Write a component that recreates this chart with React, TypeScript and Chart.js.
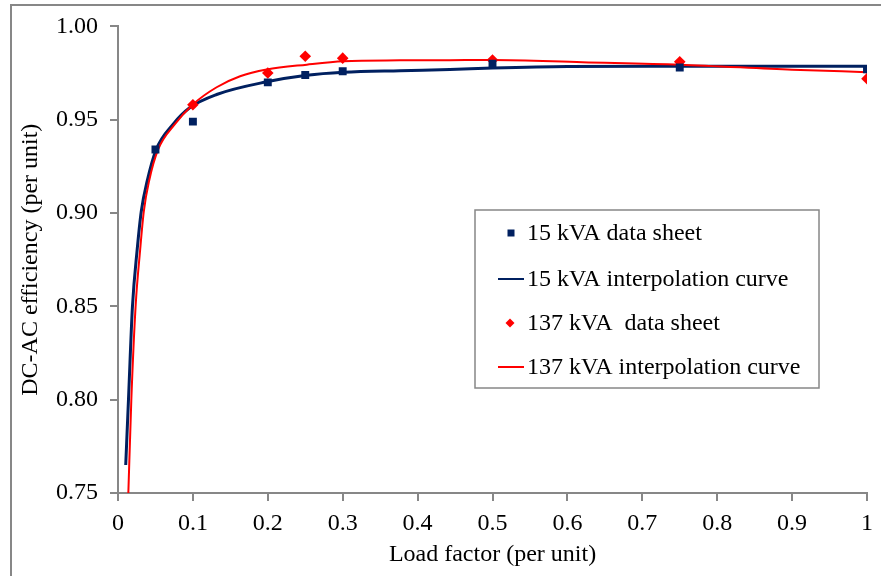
import React, { useEffect, useRef } from "react";
import { Chart, registerables } from "chart.js";

Chart.register(...registerables);

// ---- data ----
const sheet15X = [0.05, 0.1, 0.2, 0.25, 0.3, 0.5, 0.75, 1.0];
const sheet15Y = [0.934, 0.949, 0.970, 0.974, 0.976, 0.980, 0.978, 0.977];

const sheet137X = [0.1, 0.2, 0.25, 0.3, 0.5, 0.75, 1.0];
const sheet137Y = [0.958, 0.975, 0.984, 0.983, 0.982, 0.981, 0.972];

const curve15X = [0.0103, 0.014, 0.0193, 0.0255, 0.0311, 0.039, 0.051, 0.0734, 0.0957, 0.1317, 0.1985, 0.252, 0.301, 0.3765, 0.443, 0.5, 0.6, 0.75, 0.9, 1.0];
const curve15Y = [0.765, 0.80, 0.85, 0.88, 0.901, 0.9172, 0.934, 0.9475, 0.9564, 0.9635, 0.9703, 0.9738, 0.9754, 0.9763, 0.9769, 0.9777, 0.9785, 0.9786, 0.9786, 0.9786];

const curve137X = [0.0138, 0.0178, 0.0235, 0.0295, 0.0345, 0.0415, 0.0535, 0.0757, 0.1, 0.1317, 0.163, 0.1985, 0.252, 0.301, 0.3765, 0.443, 0.5, 0.62, 0.75, 0.9, 1.0];
const curve137Y = [0.75, 0.80, 0.85, 0.88, 0.901, 0.9172, 0.934, 0.9475, 0.9582, 0.9674, 0.9733, 0.9769, 0.9795, 0.9813, 0.9818, 0.9819, 0.982, 0.9808, 0.9795, 0.9768, 0.9755];

const xTickLabels = ["0", "0.1", "0.2", "0.3", "0.4", "0.5", "0.6", "0.7", "0.8", "0.9", "1"];
const yTickLabels = ["0.75", "0.80", "0.85", "0.90", "0.95", "1.00"];

const seriesLabels = [
  "15 kVA data sheet",
  "15 kVA interpolation curve",
  "137 kVA  data sheet",
  "137 kVA interpolation curve",
];

const NAVY = "#002060";
const RED = "#ff0000";
const GRAY = "#878787";
const FONT_FAMILY = "'Liberation Serif', 'Times New Roman', serif";
const FONT_SIZE = 24;

const zip = (xs: number[], ys: number[]) => xs.map((x, i) => ({ x, y: ys[i] }));

const framePlugin = {
  id: "frame",
  beforeDraw(chart: any) {
    const { ctx } = chart;
    ctx.save();
    ctx.fillStyle = "#ffffff";
    ctx.fillRect(0, 0, chart.width, chart.height);
    ctx.strokeStyle = GRAY;
    ctx.lineWidth = 2;
    ctx.beginPath();
    ctx.moveTo(11, chart.height);
    ctx.lineTo(11, 5);
    ctx.lineTo(chart.width, 5);
    ctx.stroke();
    ctx.restore();
  },
};

const legendPlugin = {
  id: "customLegend",
  afterDraw(chart: any) {
    const { ctx } = chart;
    const ds = chart.data.datasets;
    ctx.save();
    ctx.strokeStyle = GRAY;
    ctx.lineWidth = 1.5;
    ctx.strokeRect(475, 210, 344, 178);
    ctx.font = `${FONT_SIZE}px ${FONT_FAMILY}`;
    ctx.textBaseline = "middle";
    ctx.textAlign = "left";
    const rows = [233, 279, 323, 367];
    ds.forEach((d: any, i: number) => {
      const y = rows[i];
      if (d.showLine === false) {
        ctx.fillStyle = d.backgroundColor;
        if (d.pointStyle === "rect") {
          ctx.fillRect(507.5, y - 3.5, 7, 7);
        } else {
          ctx.beginPath();
          ctx.moveTo(510, y - 4.5);
          ctx.lineTo(514.5, y);
          ctx.lineTo(510, y + 4.5);
          ctx.lineTo(505.5, y);
          ctx.closePath();
          ctx.fill();
        }
      } else {
        ctx.strokeStyle = d.borderColor;
        ctx.lineWidth = 2;
        ctx.beginPath();
        ctx.moveTo(498, y);
        ctx.lineTo(524, y);
        ctx.stroke();
      }
      ctx.fillStyle = "#000000";
      ctx.fillText(d.label, 527, y + 1);
    });
    ctx.restore();
  },
};

export default function App() {
  const ref = useRef<HTMLCanvasElement | null>(null);

  useEffect(() => {
    if (!ref.current) return;
    const font = { family: FONT_FAMILY, size: FONT_SIZE };
    const chart = new Chart(ref.current, {
      type: "scatter",
      data: {
        datasets: [
          {
            label: seriesLabels[0],
            data: zip(sheet15X, sheet15Y),
            showLine: false,
            pointStyle: "rect",
            pointRadius: 5.6,
            backgroundColor: NAVY,
            borderColor: NAVY,
            borderWidth: 0,
            order: 0,
          },
          {
            label: seriesLabels[1],
            data: zip(curve15X, curve15Y),
            showLine: true,
            pointRadius: 0,
            borderColor: NAVY,
            backgroundColor: NAVY,
            borderWidth: 3,
            cubicInterpolationMode: "monotone",
            order: 3,
          },
          {
            label: seriesLabels[2],
            data: zip(sheet137X, sheet137Y),
            showLine: false,
            pointStyle: "rectRot",
            pointRadius: 5.8,
            backgroundColor: RED,
            borderColor: RED,
            borderWidth: 0,
            order: 0,
          },
          {
            label: seriesLabels[3],
            data: zip(curve137X, curve137Y),
            showLine: true,
            pointRadius: 0,
            borderColor: RED,
            backgroundColor: RED,
            borderWidth: 2,
            cubicInterpolationMode: "monotone",
            order: 2,
          },
        ],
      } as any,
      options: {
        animation: false,
        responsive: false,
        devicePixelRatio: 1,
        layout: { padding: { top: 25, right: 14, left: 0, bottom: 0 } },
        plugins: {
          legend: { display: false },
          tooltip: { enabled: false },
        },
        scales: {
          x: {
            type: "linear",
            min: 0,
            max: 1,
            ticks: {
              stepSize: 0.1,
              color: "#000000",
              font,
              padding: 8,
              maxRotation: 0,
              autoSkip: false,
              callback: (_v: any, i: number) => xTickLabels[i],
            },
            grid: {
              display: true,
              drawOnChartArea: false,
              drawTicks: true,
              tickLength: 8,
              color: GRAY,
              lineWidth: 2,
            },
            border: { display: true, color: GRAY, width: 2 },
            title: {
              display: true,
              text: "Load factor (per unit)",
              color: "#000000",
              font,
              padding: { top: 0, bottom: 7 },
            },
            afterFit: (s: any) => {
              s.height = 83;
            },
          },
          y: {
            type: "linear",
            min: 0.75,
            max: 1,
            ticks: {
              stepSize: 0.05,
              color: "#000000",
              font,
              padding: 12,
              autoSkip: false,
              callback: (_v: any, i: number) => yTickLabels[i],
            },
            grid: {
              display: true,
              drawOnChartArea: false,
              drawTicks: true,
              tickLength: 8,
              color: GRAY,
              lineWidth: 2,
            },
            border: { display: true, color: GRAY, width: 2 },
            title: {
              display: true,
              text: "DC-AC efficiency (per unit)",
              color: "#000000",
              font,
              padding: { top: 16, bottom: 0 },
            },
            afterFit: (s: any) => {
              s.width = 118;
            },
          },
        },
      } as any,
      plugins: [framePlugin, legendPlugin],
    });
    return () => chart.destroy();
  }, []);

  return (
    <div style={{ position: "absolute", left: 0, top: 0, width: 881, height: 576, background: "#fff" }}>
      <canvas ref={ref} width={881} height={576} style={{ display: "block" }} />
    </div>
  );
}
